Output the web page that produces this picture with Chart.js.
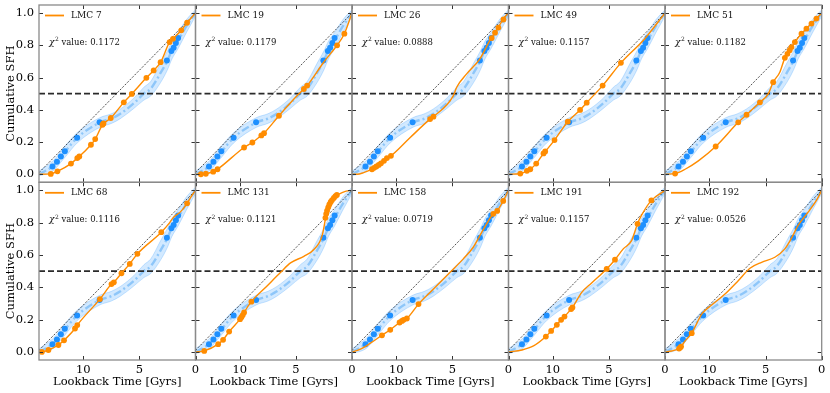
<!DOCTYPE html>
<html><head><meta charset="utf-8">
<script src="https://cdn.jsdelivr.net/npm/chart.js@4.4.1/dist/chart.umd.min.js"></script>
<style>
html,body{margin:0;padding:0;background:#fff;}
#wrap{position:relative;width:830px;height:393px;overflow:hidden;}
#wrap canvas{position:absolute;left:0;top:0;}
</style>
</head><body>
<div id="wrap"></div>
<script>
// ---------- data ----------
const panelNames = ['LMC 7','LMC 19','LMC 26','LMC 49','LMC 51','LMC 68','LMC 131','LMC 158','LMC 191','LMC 192'];
const chiValues = ['0.1172','0.1179','0.0888','0.1157','0.1182','0.1116','0.1121','0.0719','0.1157','0.0526'];
const xTickValues = [10, 5, 0];
const yTickValues = [0, 0.2, 0.4, 0.6, 0.8, 1.0];
const halfLevel = 0.5;
const diagonalPts = [[13.95, 0.01], [0, 1]];

// field (blue) reference: median, band, points
const blueLineT  = [13.94, 12.75, 12.35, 12.0, 11.6, 10.55, 8.5, 7.5, 6.7, 5.5, 4.6, 4.0, 3.1, 2.5, 2.1, 1.55, 0.8, 0];
const blueLineY  = [0.0, 0.048, 0.077, 0.11, 0.143, 0.226, 0.322, 0.345, 0.375, 0.44, 0.5, 0.53, 0.63, 0.706, 0.77, 0.83, 0.92, 1.0];
const blueUpperY = [0.02, 0.08, 0.11, 0.145, 0.178, 0.258, 0.352, 0.375, 0.405, 0.472, 0.54, 0.575, 0.69, 0.765, 0.825, 0.88, 0.96, 1.02];
const blueLowerY = [-0.01, 0.018, 0.045, 0.075, 0.108, 0.194, 0.292, 0.315, 0.345, 0.408, 0.46, 0.485, 0.57, 0.648, 0.715, 0.78, 0.88, 0.98];
const blueDotT = [12.75, 12.35, 12.0, 11.65, 10.55, 8.55, 2.55, 2.15, 1.95, 1.75, 1.55];
const blueDotY = [0.048, 0.077, 0.11, 0.143, 0.226, 0.322, 0.706, 0.765, 0.785, 0.815, 0.845];

// cluster (orange) curves and points, [lookback time, cumulative SFH]
const lmc7Line = [[13.94,0],[12.9,0.002],[12.31,0.018],[11.1,0.066],[10.54,0.1],[10.36,0.11],[9.32,0.183],[8.94,0.218],[8.29,0.307],[7.55,0.349],[6.39,0.446],[5.68,0.498],[4.38,0.598],[3.73,0.644],[3.11,0.695],[2.31,0.82],[2.01,0.84],[1.27,0.893],[0.75,0.94],[0,1]];
const lmc7Dots = [[12.9,0.002],[12.31,0.018],[11.1,0.066],[10.54,0.1],[10.36,0.11],[9.32,0.183],[8.94,0.218],[8.29,0.307],[8.2,0.315],[7.55,0.349],[6.39,0.446],[5.68,0.498],[4.38,0.598],[3.73,0.644],[3.11,0.695],[2.31,0.82],[2.01,0.84],[1.27,0.893],[0.75,0.94]];
const lmc19Line = [[13.94,0],[13.47,0.0],[13.03,0.003],[12.37,0.016],[11.99,0.031],[9.62,0.166],[8.88,0.197],[8.08,0.241],[7.84,0.255],[6.51,0.363],[4.88,0.488],[4.29,0.529],[4.0,0.55],[2.52,0.695],[1.92,0.748],[1.33,0.8],[0.68,0.872],[0,1]];
const lmc19Dots = [[13.47,0.0],[13.03,0.003],[12.37,0.016],[11.99,0.031],[9.62,0.166],[8.88,0.197],[8.08,0.241],[7.84,0.255],[6.51,0.363],[4.29,0.529],[4.0,0.55],[1.33,0.8],[0.68,0.872]];
const lmc26Line = [[13.94,0],[13.5,0.0],[12.91,0.01],[12.17,0.031],[11.78,0.048],[11.37,0.068],[10.84,0.1],[10.48,0.114],[8.76,0.228],[6.99,0.342],[6.69,0.357],[4.91,0.488],[4.62,0.54],[3.73,0.623],[2.55,0.716],[1.66,0.83],[1.07,0.893],[0.33,0.976],[0,1]];
const lmc26Dots = [[12.17,0.031],[11.98,0.04],[11.78,0.048],[11.57,0.058],[11.37,0.068],[11.1,0.083],[10.84,0.1],[10.48,0.114],[6.99,0.342],[6.69,0.357],[1.5,0.845],[1.2,0.878],[0.9,0.91],[0.45,0.96]];
const lmc49Line = [[13.94,0],[12.9,0.004],[12.31,0.021],[12.01,0.031],[11.48,0.066],[10.83,0.129],[10.68,0.141],[9.85,0.212],[8.67,0.326],[7.57,0.399],[6.98,0.444],[5.56,0.55],[3.93,0.691],[1.8,0.841],[0,1]];
const lmc49Dots = [[12.9,0.004],[12.31,0.021],[12.01,0.031],[11.48,0.066],[10.83,0.129],[10.68,0.141],[9.85,0.212],[8.67,0.326],[7.57,0.399],[6.98,0.444],[5.56,0.55],[3.93,0.691]];
const lmc51Line = [[13.94,0],[13.05,0.004],[12.16,0.031],[10.98,0.083],[9.44,0.172],[7.43,0.322],[6.69,0.369],[5.5,0.446],[4.76,0.498],[4.32,0.571],[3.73,0.633],[3.28,0.722],[3.05,0.747],[2.69,0.789],[2.39,0.82],[1.8,0.872],[1.36,0.903],[0.91,0.935],[0.47,0.966],[0,1]];
const lmc51Dots = [[13.05,0.004],[9.44,0.172],[7.43,0.322],[6.69,0.369],[5.5,0.446],[4.32,0.571],[3.28,0.722],[3.05,0.747],[2.85,0.77],[2.69,0.789],[2.39,0.82],[1.8,0.872],[1.36,0.903],[0.91,0.935],[0.47,0.966]];
const lmc68Line = [[13.94,0],[13.7,0.0],[13.11,0.012],[12.22,0.043],[11.72,0.072],[10.74,0.145],[10.54,0.166],[8.52,0.327],[7.49,0.42],[7.28,0.431],[6.6,0.487],[5.86,0.545],[5.18,0.607],[3.05,0.741],[2.3,0.8],[2.0,0.83],[1.3,0.87],[0.75,0.92],[0.4,0.96],[0,1]];
const lmc68Dots = [[13.7,0.0],[13.11,0.012],[12.22,0.043],[11.72,0.072],[10.74,0.145],[10.54,0.166],[8.52,0.327],[7.49,0.42],[7.28,0.431],[6.6,0.487],[5.86,0.545],[5.18,0.607],[3.05,0.741],[0.75,0.92]];
const lmc131Line = [[13.94,0],[13.17,0.006],[11.93,0.048],[11.49,0.075],[10.95,0.126],[9.98,0.203],[9.74,0.228],[9.62,0.244],[8.97,0.311],[7.55,0.41],[6.36,0.493],[5.48,0.551],[4.29,0.592],[3.4,0.634],[2.66,0.72],[2.37,0.824],[2.28,0.865],[2.07,0.907],[1.78,0.938],[1.48,0.965],[1.27,0.973],[0.59,0.994],[0,1]];
const lmc131Dots = [[13.17,0.006],[11.93,0.048],[11.49,0.075],[10.95,0.126],[9.98,0.203],[9.86,0.215],[9.74,0.228],[9.62,0.244],[8.97,0.311],[2.37,0.83],[2.3,0.855],[2.22,0.875],[2.12,0.895],[2.02,0.913],[1.9,0.928],[1.78,0.94],[1.62,0.953],[1.48,0.965],[1.35,0.972]];
const lmc158Line = [[13.94,0],[13.2,0.017],[12.31,0.054],[11.28,0.103],[10.54,0.137],[9.71,0.182],[9.35,0.199],[9.06,0.207],[8.02,0.296],[6.69,0.389],[5.21,0.493],[4.03,0.576],[3.14,0.648],[2.55,0.72],[1.95,0.793],[1.36,0.855],[1.01,0.873],[0.47,0.935],[0,1]];
const lmc158Dots = [[11.28,0.103],[10.54,0.137],[9.71,0.182],[9.5,0.192],[9.35,0.199],[9.06,0.207],[8.02,0.296],[1.36,0.855],[1.01,0.873],[0.47,0.935]];
const lmc191Line = [[13.94,0],[12.75,0.012],[11.72,0.037],[10.62,0.095],[10.15,0.13],[9.64,0.168],[9.26,0.199],[8.96,0.219],[8.37,0.265],[8.25,0.275],[7.42,0.369],[6.54,0.427],[5.2,0.514],[4.46,0.571],[3.72,0.638],[2.98,0.689],[2.45,0.793],[2.1,0.845],[1.21,0.938],[0,1]];
const lmc191Dots = [[10.62,0.095],[10.15,0.13],[9.64,0.168],[9.26,0.199],[8.96,0.219],[8.37,0.265],[8.25,0.275],[5.2,0.514],[4.46,0.571],[2.45,0.793],[1.21,0.938]];
const lmc192Line = [[13.94,0],[13.35,0.006],[12.7,0.021],[12.52,0.033],[12.16,0.068],[11.57,0.116],[10.68,0.234],[9.8,0.29],[8.61,0.358],[7.43,0.441],[6.39,0.518],[5.35,0.555],[4.17,0.586],[3.28,0.638],[2.69,0.704],[2.1,0.783],[1.21,0.865],[0.47,0.938],[0,1]];
const lmc192Dots = [[12.7,0.021],[12.6,0.027],[12.52,0.033],[11.57,0.116]];

const orangeLines = [lmc7Line, lmc19Line, lmc26Line, lmc49Line, lmc51Line, lmc68Line, lmc131Line, lmc158Line, lmc191Line, lmc192Line];
const orangeDots  = [lmc7Dots, lmc19Dots, lmc26Dots, lmc49Dots, lmc51Dots, lmc68Dots, lmc131Dots, lmc158Dots, lmc191Dots, lmc192Dots];

// ---------- layout ----------
const W = 830, H = 393;
const colLeft = [39, 195.5, 352, 508.5, 665];
const colRight = [195.5, 352, 508.5, 665, 821.7];
const rowTop = [5, 182.3];
const rowBottom = [182.3, 360];
const SERIF = "'DejaVu Serif', serif";
const ORANGE = '#ff8c00';
const BLUE = '#1e90ff';

const pairs = arr => arr.map(([x, y]) => ({x, y}));
const zip = (ts, ys) => ts.map((t, i) => ({x: t, y: ys[i]}));

const framePlugin = {
  id: 'frame',
  afterDatasetsDraw(chart, args, opts) {
    const {ctx, chartArea: a, scales: {x, y}} = chart;
    ctx.save();
    ctx.strokeStyle = '#333'; ctx.lineWidth = 1;
    ctx.beginPath();
    xTickValues.forEach(v => {
      const px = Math.round(x.getPixelForValue(v)) + 0.5;
      ctx.moveTo(px, a.bottom); ctx.lineTo(px, a.bottom - 4);
      ctx.moveTo(px, a.top); ctx.lineTo(px, a.top + 4);
    });
    yTickValues.forEach(v => {
      const py = Math.round(y.getPixelForValue(v)) + 0.5;
      ctx.moveTo(a.left, py); ctx.lineTo(a.left + 4, py);
      ctx.moveTo(a.right, py); ctx.lineTo(a.right - 4, py);
    });
    ctx.stroke();
    ctx.strokeStyle = '#8a8a8a'; ctx.lineWidth = 1.3;
    ctx.strokeRect(a.left, a.top, a.right - a.left, a.bottom - a.top);
    // legend
    const ly = a.top + 10.5;
    ctx.strokeStyle = ORANGE; ctx.lineWidth = 1.8;
    ctx.beginPath(); ctx.moveTo(a.left + 6, ly); ctx.lineTo(a.left + 25, ly); ctx.stroke();
    ctx.fillStyle = '#111'; ctx.textBaseline = 'middle'; ctx.textAlign = 'left';
    ctx.font = `9px ${SERIF}`;
    ctx.fillText(opts.label, a.left + 32, ly);
    // chi-square text
    const cy = a.top + 37.8;
    let cx = a.left + 10;
    ctx.font = `italic 9px ${SERIF}`;
    ctx.fillText('χ', cx, cy);
    cx += ctx.measureText('χ').width + 0.5;
    ctx.font = `6px ${SERIF}`;
    ctx.fillText('2', cx, cy - 3);
    cx += ctx.measureText('2').width;
    ctx.font = `8.5px ${SERIF}`;
    ctx.fillText(' value: ' + opts.chi, cx, cy);
    ctx.restore();
  }
};

const zeroPad = s => { s.paddingTop = 0; s.paddingBottom = 0; s.paddingLeft = 0; s.paddingRight = 0; };

const wrap = document.getElementById('wrap');
panelNames.forEach((name, i) => {
  const row = Math.floor(i / 5), col = i % 5;
  const L = colLeft[col], R = colRight[col], T = rowTop[row], B = rowBottom[row];
  const showX = row === 1, showY = col === 0;
  const yW = showY ? 39 : 0;
  const xH = showX ? 33 : 0;
  const cv = document.createElement('canvas');
  cv.width = W; cv.height = H;
  wrap.appendChild(cv);

  const datasets = [
    {data: zip(blueLineT, blueLowerY), borderWidth: 0.7, borderColor: 'rgba(30,144,255,0.32)', pointRadius: 0, fill: false, cubicInterpolationMode: 'monotone', order: 10},
    {data: zip(blueLineT, blueUpperY), borderWidth: 0.7, borderColor: 'rgba(30,144,255,0.32)', backgroundColor: 'rgba(30,144,255,0.2)', pointRadius: 0, fill: {target: 0}, cubicInterpolationMode: 'monotone', order: 9},
    {data: zip(blueLineT, blueLineY), borderWidth: 2.4, borderColor: 'rgba(135,195,248,0.9)', borderDash: [8, 3, 2, 3], pointRadius: 0, fill: false, cubicInterpolationMode: 'monotone', order: 8},
    {data: zip(blueDotT, blueDotY), showLine: false, pointRadius: 3, pointBackgroundColor: BLUE, pointBorderWidth: 0, order: 7},
    {data: pairs(diagonalPts), borderWidth: 0.7, borderColor: '#000', borderDash: [2, 1.5], pointRadius: 0, fill: false, order: 6},
    {data: [{x: 13.95, y: halfLevel}, {x: 0, y: halfLevel}], borderWidth: 1.6, borderColor: '#2a2a2a', borderDash: [6, 3], pointRadius: 0, fill: false, order: 5},
    {data: pairs(orangeLines[i]), borderWidth: 1.4, borderColor: ORANGE, pointRadius: 0, fill: false, cubicInterpolationMode: 'monotone', order: 2},
    {data: pairs(orangeDots[i]), showLine: false, pointRadius: 2.9, pointBackgroundColor: ORANGE, pointBorderWidth: 0, order: 1}
  ];

  new Chart(cv, {
    type: 'line',
    data: {datasets},
    options: {
      responsive: false, animation: false, devicePixelRatio: 1, events: [],
      layout: {padding: {left: L - yW, right: W - R, top: T, bottom: H - B - xH}},
      plugins: {legend: {display: false}, tooltip: {enabled: false}, frame: {label: name, chi: chiValues[i]}},
      scales: {
        x: {
          type: 'linear', min: 0, max: 13.95, reverse: true, position: 'bottom',
          grid: {display: false, drawTicks: false, tickLength: 0}, border: {display: false},
          afterBuildTicks: s => { s.ticks = xTickValues.map(v => ({value: v})); },
          ticks: {display: showX, font: {family: SERIF, size: 11.5}, color: '#000', padding: 3, maxRotation: 0, autoSkip: false},
          title: {display: showX, text: 'Lookback Time [Gyrs]', font: {family: SERIF, size: 11.5}, color: '#000', padding: {top: 0, bottom: 4}},
          afterFit: s => { s.height = xH; zeroPad(s); }
        },
        y: {
          type: 'linear', min: -0.05, max: 1.05, position: 'left',
          grid: {display: false, drawTicks: false, tickLength: 0}, border: {display: false},
          afterBuildTicks: s => { s.ticks = yTickValues.map(v => ({value: v})); },
          ticks: {display: showY, font: {family: SERIF, size: 11.5}, color: '#000', padding: 5, callback: v => Number(v).toFixed(1)},
          title: {display: showY, text: 'Cumulative SFH', font: {family: SERIF, size: 11.5}, color: '#000', padding: {top: 4, bottom: 4}},
          afterFit: s => { s.width = yW; zeroPad(s); }
        }
      }
    },
    plugins: [framePlugin]
  });
});
</script>
</body></html>
